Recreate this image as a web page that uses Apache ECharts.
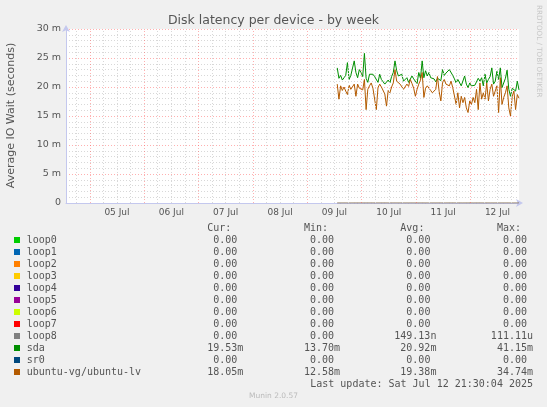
<!DOCTYPE html>
<html>
<head>
<meta charset="utf-8">
<title>Disk latency per device - by week</title>
<script src="https://cdn.jsdelivr.net/npm/echarts@6.0.0/dist/echarts.min.js"></script>
<style>
    html, body { margin: 0; padding: 0; background: #F0F0F0; }
    #chart { width: 547px; height: 407px; }
</style>
</head>
<body>
<div id="chart"></div>
<script>
var chartTitle = 'Disk latency per device - by week';

// x axis is in hours counted from 04 Jul 00:00
var axisStartHour = 13.5;   // 04 Jul 13:30
var axisEndHour = 213.5;    // 12 Jul 21:30
var dayLabels = ['05 Jul', '06 Jul', '07 Jul', '08 Jul', '09 Jul', '10 Jul', '11 Jul', '12 Jul'];
var dayLabelHours = [36, 60, 84, 108, 132, 156, 180, 204];

// samples, one every 45 min starting 09 Jul 13:15
var startHour = 133.25;
var stepHours = 0.75;

// sda (ms)
var sdaValues = [
    23.3, 21.5, 22.0, 21.2, 21.6, 22.0, 24.2, 21.3, 22.0, 21.9,
    24.5, 22.5, 21.6, 23.0, 22.5, 21.8, 25.8, 21.5, 20.8, 22.2,
    21.9, 22.2, 21.8, 21.6, 20.8, 22.2, 21.3, 20.9, 20.5, 20.4,
    21.2, 20.7, 21.8, 22.5, 24.5, 22.8, 21.9, 21.6, 22.2, 21.0,
    21.3, 21.6, 20.8, 21.0, 21.9, 21.4, 21.3, 20.6, 22.5, 21.5,
    24.5, 21.6, 22.8, 21.9,
    22.5, 21.6, 21.9, 21.4, 20.9, 21.5, 21.6, 21.1, 23.0, 22.0,
    22.4, 22.2, 23.0, 22.8, 22.0, 21.4, 20.7, 21.3, 21.0, 20.2,
    20.5, 21.9, 20.5, 19.9, 20.7, 20.2, 20.5, 20.3, 20.5, 21.5,
    21.0, 21.6, 20.2, 22.2, 20.7, 21.3, 21.8, 23.3, 20.5, 21.0,
    22.7, 21.3, 23.3, 19.9, 20.0, 21.5, 22.9, 19.6, 18.4, 19.8,
    19.9, 19.3, 21.0, 19.5
];
// ubuntu-vg/ubuntu-lv (ms)
var lvValues = [
    20.5, 17.9, 20.2, 19.4, 20.0, 19.3, 18.7, 20.3, 19.6, 19.3,
    20.5, 18.4, 20.5, 19.8, 19.9, 19.5, 21.3, 16.1, 19.6, 20.2,
    20.7, 19.8, 19.6, 16.1, 19.9, 20.5, 20.0, 20.2, 18.8, 16.7,
    19.4, 19.0, 20.0, 20.7, 23.0, 21.0, 21.3, 20.5, 20.2, 19.6,
    19.3, 20.5, 20.1, 21.3, 20.6, 19.8, 18.4, 19.6, 20.5, 21.2,
    22.5, 18.2, 19.8, 20.2,
    20.0, 19.4, 19.0, 19.2, 19.6, 21.8, 19.2, 17.6, 20.8, 21.3,
    20.5, 20.7, 20.2, 21.0, 19.9, 19.6, 17.0, 19.0, 16.4, 18.4,
    17.3, 18.2, 16.4, 15.6, 17.6, 17.0, 18.2, 17.3, 19.6, 16.1,
    20.7, 17.9, 19.0, 17.9, 20.7, 17.6, 19.6, 20.5, 18.4, 19.3,
    20.2, 15.6, 21.6, 17.0, 18.2, 19.0, 20.2, 16.4, 15.0, 18.4,
    19.3, 16.1, 18.7, 18.05
];

var deviceNames = ['loop0', 'loop1', 'loop2', 'loop3', 'loop4', 'loop5', 'loop6', 'loop7', 'loop8', 'sda', 'sr0', 'ubuntu-vg/ubuntu-lv'];
var deviceColors = ['#00CC00', '#0066B3', '#FF8000', '#FFCC00', '#330099', '#990099', '#CCFF00', '#FF0000', '#808080', '#008F00', '#00487D', '#B35A00'];
var curValues = ['0.00', '0.00', '0.00', '0.00', '0.00', '0.00', '0.00', '0.00', '0.00', '19.53m', '0.00', '18.05m'];
var minValues = ['0.00', '0.00', '0.00', '0.00', '0.00', '0.00', '0.00', '0.00', '0.00', '13.70m', '0.00', '12.58m'];
var avgValues = ['0.00', '0.00', '0.00', '0.00', '0.00', '0.00', '0.00', '0.00', '149.13n', '20.92m', '0.00', '19.38m'];
var maxValues = ['0.00', '0.00', '0.00', '0.00', '0.00', '0.00', '0.00', '0.00', '111.11u', '41.15m', '0.00', '34.74m'];
var lastUpdate = 'Last update: Sat Jul 12 21:30:04 2025';

var MONO = '"DejaVu Sans Mono", monospace';
var SANS = '"DejaVu Sans", sans-serif';

function pairs(values) {
    var out = [];
    for (var i = 0; i < values.length; i++) {
        out.push([startHour + i * stepHours, values[i]]);
    }
    return out;
}

// loops and sr0 stay at zero the whole time
function zeroPairs() {
    var out = [];
    for (var i = 0; i < sdaValues.length; i++) {
        out.push([startHour + i * stepHours, 0]);
    }
    return out;
}

// vertical grid: grey every 6h, red at midnight
function gridLines() {
    var lines = [];
    for (var h = 18; h < axisEndHour; h += 6) {
        if (h % 24 === 0) continue;
        lines.push({ xAxis: h, lineStyle: { color: '#D8D8D8', type: [1, 2], width: 1 } });
    }
    for (var m = 24; m < axisEndHour; m += 24) {
        lines.push({ xAxis: m, lineStyle: { color: 'rgba(255,80,80,0.45)', type: [1, 2], width: 1 } });
    }
    return lines;
}

function legendGraphics() {
    var g = [];
    var cols = [243.3, 340, 436.4, 533];
    var heads = ['Cur:', 'Min:', 'Avg:', 'Max:'];
    var table = [curValues, minValues, avgValues, maxValues];
    var font = '10px ' + MONO;
    var fill = '#555';
    for (var c = 0; c < cols.length; c++) {
        g.push({ type: 'text', x: cols[c] - 12, y: 228, style: { text: heads[c], font: font, fill: fill, align: 'right', verticalAlign: 'middle' } });
    }
    for (var i = 0; i < deviceNames.length; i++) {
        var y = 240 + i * 12;
        g.push({ type: 'rect', shape: { x: 14, y: y - 3, width: 6, height: 6 }, style: { fill: deviceColors[i] } });
        g.push({ type: 'text', x: 26.7, y: y, style: { text: deviceNames[i], font: font, fill: fill, align: 'left', verticalAlign: 'middle' } });
        for (var k = 0; k < cols.length; k++) {
            var s = table[k][i];
            var hasUnit = /[a-z]$/.test(s);
            g.push({ type: 'text', x: hasUnit ? cols[k] : cols[k] - 6, y: y, style: { text: s, font: font, fill: fill, align: 'right', verticalAlign: 'middle' } });
        }
    }
    g.push({ type: 'text', x: 533, y: 384, style: { text: lastUpdate, font: font, fill: fill, align: 'right', verticalAlign: 'middle' } });
    return g;
}

var myChart = echarts.init(document.getElementById('chart'));

var series = [];
// hidden series just carrying the vertical grid
series.push({
    name: 'grid',
    type: 'line',
    data: [],
    z: 1,
    markLine: {
        silent: true,
        symbol: 'none',
        label: { show: false },
        animation: false,
        data: gridLines()
    }
});
for (var i = 0; i < deviceNames.length; i++) {
    var d;
    var isZero = false;
    if (deviceNames[i] === 'sda') {
        d = pairs(sdaValues);
    } else if (deviceNames[i] === 'ubuntu-vg/ubuntu-lv') {
        d = pairs(lvValues);
    } else {
        d = zeroPairs();
        isZero = true;
    }
    series.push({
        name: deviceNames[i],
        type: 'line',
        data: d,
        symbol: 'none',
        clip: isZero,
        lineStyle: { color: deviceColors[i], width: 1, opacity: isZero ? 0.12 : 1 },
        z: 3
    });
}

var option = {
    animation: false,
    backgroundColor: '#F0F0F0',
    title: {
        text: chartTitle,
        left: 'center',
        top: 9,
        textStyle: { fontFamily: SANS, fontSize: 12.5, fontWeight: 'normal', color: '#555' }
    },
    grid: {
        left: 66, top: 29, width: 453, height: 174,
        show: true, backgroundColor: '#FFFFFF', borderWidth: 0
    },
    xAxis: {
        type: 'value',
        min: axisStartHour,
        max: axisEndHour,
        axisLine: {
            show: true,
            lineStyle: { color: '#C4C8EE', width: 1 },
            symbol: ['none', 'arrow'],
            symbolSize: [6, 7],
            symbolOffset: [0, 4]
        },
        axisTick: { show: false },
        splitLine: { show: false },
        axisLabel: {
            customValues: dayLabelHours,
            margin: 5,
            fontFamily: SANS,
            fontSize: 9,
            color: '#555',
            formatter: function (v) {
                var idx = dayLabelHours.indexOf(v);
                return idx >= 0 ? dayLabels[idx] : '';
            }
        }
    },
    yAxis: {
        type: 'value',
        min: 0,
        max: 30,
        interval: 5,
        axisLine: {
            show: true,
            lineStyle: { color: '#C4C8EE', width: 1 },
            symbol: ['none', 'arrow'],
            symbolSize: [6, 7],
            symbolOffset: [0, 4]
        },
        axisTick: { show: false },
        axisLabel: {
            margin: 5,
            fontFamily: SANS,
            fontSize: 9.5,
            color: '#555',
            formatter: function (v) {
                return v === 0 ? '0' : v + ' m';
            }
        },
        splitLine: { show: true, lineStyle: { color: 'rgba(255,80,80,0.45)', type: [1, 2], width: 1 } },
        minorTick: { show: false, splitNumber: 5 },
        minorSplitLine: { show: true, lineStyle: { color: '#D8D8D8', type: [1, 2], width: 1 } }
    },
    graphic: [
        { type: 'text', x: 11, y: 115.5, rotation: Math.PI / 2, style: { text: 'Average IO Wait (seconds)', font: '11px ' + SANS, fill: '#555', align: 'center', verticalAlign: 'middle' } },
        { type: 'text', x: 539, y: 5, rotation: -Math.PI / 2, style: { text: 'RRDTOOL / TOBI OETIKER', font: '7.2px ' + SANS, fill: '#C8C8C8', align: 'left', verticalAlign: 'middle' } },
        { type: 'text', x: 273.5, y: 396.5, style: { text: 'Munin 2.0.57', font: '7.5px ' + SANS, fill: '#BBBBBB', align: 'center', verticalAlign: 'middle' } }
    ].concat(legendGraphics()),
    series: series
};
myChart.setOption(option);
</script>
</body>
</html>
